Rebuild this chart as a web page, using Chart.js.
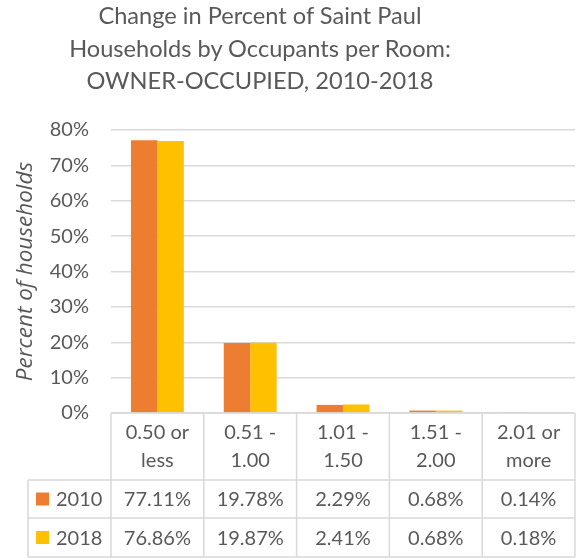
<!DOCTYPE html>
<html>
<head>
<meta charset="utf-8">
<script src="https://cdn.jsdelivr.net/npm/chart.js@4.4.1/dist/chart.umd.min.js"></script>
<style>
  html, body { margin: 0; padding: 0; background: #ffffff; }
  #wrap { position: relative; width: 581px; height: 559px; }
  #title {
    position: absolute;
    left: 0;
    top: -1px;
    width: 520px;
    text-align: center;
    font-family: Lato, "Open Sans", sans-serif;
    font-size: 23.6px;
    line-height: 32.5px;
    color: #595959;
  }
</style>
</head>
<body>
<div id="wrap">
  <canvas id="chart"></canvas>
  <div id="title">Change in Percent of Saint Paul<br>Households by Occupants per Room:<br>OWNER-OCCUPIED, 2010-2018</div>
</div>
<script>
// Chart data
const categories = [["0.50 or", "less"], ["0.51 -", "1.00"], ["1.01 -", "1.50"], ["1.51 -", "2.00"], ["2.01 or", "more"]];
const seriesNames = ["2010", "2018"];
const values2010 = [77.11, 19.78, 2.29, 0.68, 0.14];
const values2018 = [76.86, 19.87, 2.41, 0.68, 0.18];
const yTicks = [0, 10, 20, 30, 40, 50, 60, 70, 80];

const colors = ["#ED7D31", "#FFC000"];
const textColor = "#595959";
const lineColor = "#d9d9d9";
const fontFamily = "Lato, 'Open Sans', sans-serif";

// Data table drawn under the plot, columns follow the x scale
const dataTable = {
  id: "dataTable",
  afterDraw(chart) {
    const ctx = chart.ctx;
    const area = chart.chartArea;
    const xScale = chart.scales.x;
    const n = categories.length;
    const colW = (area.right - area.left) / n;
    const top = area.bottom;
    const headBottom = top + 67;
    const row1Bottom = headBottom + 38;
    const row2Bottom = row1Bottom + 39;
    const legendLeft = 28;
    const series = [values2010, values2018];

    ctx.save();
    ctx.strokeStyle = lineColor;
    ctx.lineWidth = 1.5;
    ctx.beginPath();
    // header top line
    ctx.moveTo(area.left, top);
    ctx.lineTo(area.right, top);
    // row lines
    [headBottom, row1Bottom, row2Bottom].forEach((y) => {
      ctx.moveTo(legendLeft, y);
      ctx.lineTo(area.right, y);
    });
    // column lines
    for (let i = 0; i <= n; i++) {
      const x = area.left + i * colW;
      ctx.moveTo(x, top);
      ctx.lineTo(x, row2Bottom);
    }
    ctx.moveTo(legendLeft, headBottom);
    ctx.lineTo(legendLeft, row2Bottom);
    ctx.stroke();

    ctx.fillStyle = textColor;
    ctx.font = "20px " + fontFamily;
    ctx.textAlign = "center";
    ctx.textBaseline = "middle";
    categories.forEach((label, i) => {
      const cx = xScale.getPixelForValue(i);
      ctx.fillText(label[0], cx, top + 20);
      ctx.fillText(label[1], cx, top + 48);
      series.forEach((vals, s) => {
        const cy = s === 0 ? (headBottom + row1Bottom) / 2 : (row1Bottom + row2Bottom) / 2;
        ctx.fillText(vals[i].toFixed(2) + "%", cx, cy + 1);
      });
    });

    // legend keys
    ctx.textAlign = "left";
    seriesNames.forEach((name, s) => {
      const cy = s === 0 ? (headBottom + row1Bottom) / 2 : (row1Bottom + row2Bottom) / 2;
      ctx.fillStyle = colors[s];
      ctx.fillRect(36, cy - 6.5, 13, 13);
      ctx.fillStyle = textColor;
      ctx.fillText(name, 56, cy + 1);
    });
    ctx.restore();
  }
};

new Chart(document.getElementById("chart"), {
  type: "bar",
  data: {
    labels: categories,
    datasets: [
      {
        label: seriesNames[0],
        data: values2010,
        backgroundColor: colors[0],
        borderWidth: 0,
        categoryPercentage: 0.57,
        barPercentage: 1.0,
      },
      {
        label: seriesNames[1],
        data: values2018,
        backgroundColor: colors[1],
        borderWidth: 0,
        categoryPercentage: 0.57,
        barPercentage: 1.0,
      },
    ],
  },
  options: {
    responsive: true,
    maintainAspectRatio: false,
    animation: false,
    layout: {
      padding: { left: 0, right: 6, top: 130, bottom: 146 },
    },
    plugins: {
      legend: { display: false },
      tooltip: { enabled: false },
      title: { display: false },
    },
    scales: {
      x: {
        display: false,
      },
      y: {
        min: 0,
        max: 80,
        afterBuildTicks(scale) {
          scale.ticks = yTicks.map((v) => ({ value: v }));
        },
        afterFit(scale) {
          scale.width = 111;
        },
        border: { display: false },
        grid: { color: lineColor, lineWidth: 1.5, drawTicks: false },
        ticks: {
          color: textColor,
          font: { family: fontFamily, size: 20 },
          padding: 22,
          callback: (v) => v + "%",
        },
        title: {
          display: true,
          text: "Percent of households",
          color: textColor,
          font: { family: "'Open Sans', sans-serif", size: 22.5, style: "italic" },
          padding: { top: 12, bottom: 0 },
        },
      },
    },
  },
  plugins: [dataTable],
});
</script>
</body>
</html>
